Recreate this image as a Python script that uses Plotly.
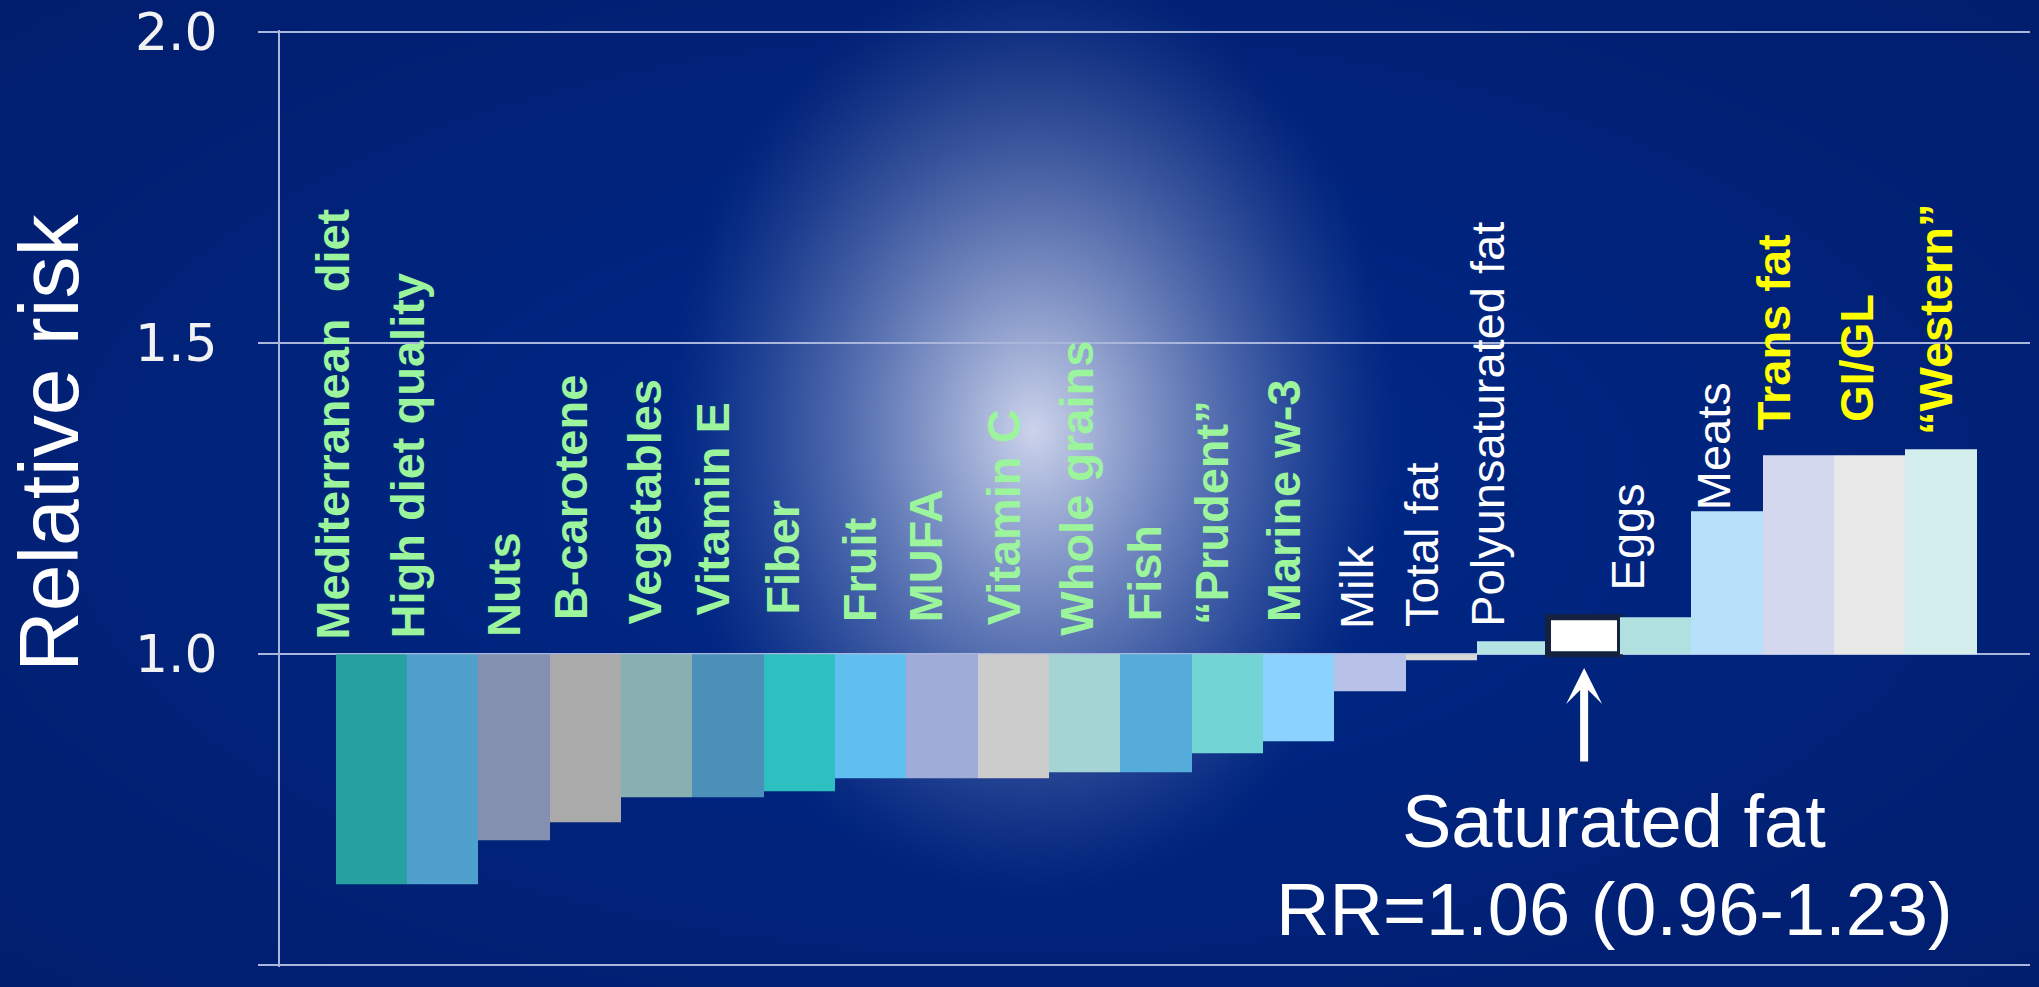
import base64, struct, zlib
import numpy as np
import plotly.graph_objects as go

# ---------------- data ----------------
categories = ["Mediterranean  diet", "High diet quality", "Nuts", "B-carotene", "Vegetables",
              "Vitamin E", "Fiber", "Fruit", "MUFA", "Vitamin C", "Whole grains", "Fish",
              "\u201cPrudent\u201d", "Marine w-3", "Milk", "Total fat", "Polyunsaturated fat",
              "Saturated fat", "Eggs", "Meats", "Trans fat", "GI/GL", "\u201cWestern\u201d"]
relative_risk = [0.63, 0.63, 0.70, 0.73, 0.77, 0.77, 0.78, 0.80, 0.80, 0.80, 0.81, 0.81,
                 0.84, 0.86, 0.94, 0.99, 1.02, 1.06, 1.06, 1.23, 1.32, 1.32, 1.33]
label_group = ["good"] * 14 + ["neutral"] * 3 + ["none", "neutral", "neutral", "bad", "bad", "bad"]
y_ticks = [0.5, 1.0, 1.5, 2.0]
reference_value = 1.0
sat_title = "Saturated fat"
sat_text = "RR=1.06 (0.96-1.23)"

# ---------------- styles ----------------
bar_colors = ["#26a0a0", "#4fa0cc", "#8490b0", "#aaaaaa", "#88b0b0", "#4a90b8", "#2ebfc0",
              "#60bff0", "#a0acd8", "#cccccc", "#a4d4d4", "#55acdb", "#72d4d4", "#8cd2ff",
              "#b8c2e8", "#d8d8d8", "#b4e4e4", "#ffffff", "#b0e0e0", "#b8e0fa", "#d4d8ee",
              "#e8e8e8", "#d4eeee"]
group_color = {"good": "#9cf59c", "neutral": "#ffffff", "bad": "#ffff00", "none": "#ffffff"}
group_weight = {"good": "bold", "neutral": "normal", "bad": "bold", "none": "normal"}
label_xshift = [-39, -36, -11, -15, -13, -15, -17, -11, -16, -10, -8.5, -12, -16, -15, -14,
                -20, -25.5, 0, -27.5, -12.5, -24, -12.5, -5.5]
label_yshift = [13, 14, 16, 33, 28, 38, 38, 31, 31, 28, 17, 31, 28, 31, 24, 26, 13.6, 0,
                25.7, 0, 24, 32, 13]
FONT = "Liberation Sans, Arial, sans-serif"
GRID = "#aab6dc"
W, H = 2039, 987
PX_PER_UNIT = 622.0
PAD = 0.003  # small range padding so edge gridlines are drawn

# ---------------- background (radial glow) ----------------
def png_uri(arr):
    h, w, _ = arr.shape
    raw = b"".join(b"\x00" + arr[i].tobytes() for i in range(h))
    def chunk(t, d):
        c = struct.pack(">I", len(d)) + t + d
        return c + struct.pack(">I", zlib.crc32(t + d) & 0xFFFFFFFF)
    png = (b"\x89PNG\r\n\x1a\n"
           + chunk(b"IHDR", struct.pack(">IIBBBBB", w, h, 8, 2, 0, 0, 0))
           + chunk(b"IDAT", zlib.compress(raw, 9)) + chunk(b"IEND", b""))
    return "data:image/png;base64," + base64.b64encode(png).decode()

s = 3
gh, gw = H // s + 1, W // s + 1
yy, xx = np.mgrid[0:gh, 0:gw].astype(float)
yy *= (H - 1) / (gh - 1)
xx *= (W - 1) / (gw - 1)
c_mid = np.array([0, 42, 140], float)
c_corner = np.array([2, 30, 110], float)
peak = np.array([205, 212, 236], float)
rv = np.clip(np.sqrt(((xx - W / 2) / (W / 2)) ** 2 + ((yy - H / 2) / (H / 2)) ** 2) / np.sqrt(2), 0, 1)
base = c_mid * (1 - rv[..., None]) + c_corner * rv[..., None]
dn = np.sqrt(((xx - 1033) / 370) ** 2 + ((yy - 430) / 470) ** 2)
t = (np.clip(1 - dn, 0, 1) ** 1.3)[..., None]
img = np.clip(base + t * (peak - base), 0, 255).astype(np.uint8)

# ---------------- figure ----------------
fig = go.Figure()
fig.add_trace(go.Bar(
    x=categories,
    y=[v - reference_value for v in relative_risk],
    base=reference_value,
    width=1.0,
    marker=dict(color=bar_colors,
                line=dict(color=["#14223f" if c == sat_title else "rgba(0,0,0,0)" for c in categories],
                          width=[6 if c == sat_title else 0 for c in categories])),
    hoverinfo="skip",
    showlegend=False,
))

annotations = []
for i, (cat, v, g) in enumerate(zip(categories, relative_risk, label_group)):
    if g == "none":
        continue
    annotations.append(dict(
        x=cat, y=max(v, reference_value), xref="x", yref="y",
        text=cat.replace("  ", " \u00a0"), showarrow=False, textangle=-90,
        xanchor="center", yanchor="bottom", borderpad=0,
        xshift=label_xshift[i], yshift=label_yshift[i],
        font=dict(family=FONT, size=47, color=group_color[g], weight=group_weight[g]),
    ))

# arrow pointing at saturated fat
annotations.append(dict(
    x=sat_title, y=reference_value, xref="x", yref="y", yshift=-14,
    text="", showarrow=True, ax=0, ay=95, axref="pixel", ayref="pixel",
    arrowhead=3, arrowsize=0.75, arrowwidth=8, arrowcolor="#ffffff",
))
annotations.append(dict(
    x=1614 / W, y=1 - 821.5 / H, xref="paper", yref="paper", showarrow=False,
    text=sat_title, xanchor="center", yanchor="middle",
    font=dict(family=FONT, size=74, color="#ffffff"),
))
annotations.append(dict(
    x=1614 / W, y=1 - 909.5 / H, xref="paper", yref="paper", showarrow=False,
    text=sat_text, xanchor="center", yanchor="middle",
    font=dict(family=FONT, size=74, color="#ffffff"),
))
# y axis title
annotations.append(dict(
    x=49 / W, y=1 - 443 / H, xref="paper", yref="paper", showarrow=False,
    text="Relative risk", textangle=-90, xanchor="center", yanchor="middle",
    font=dict(family=FONT, size=84, color="#ffffff"),
))

top_px = 32 - PAD * PX_PER_UNIT
bot_px = 965 + PAD * PX_PER_UNIT
fig.update_layout(
    width=W, height=H,
    margin=dict(l=0, r=0, t=0, b=0, autoexpand=False),
    paper_bgcolor="#00287f",
    plot_bgcolor="rgba(0,0,0,0)",
    bargap=0,
    images=[dict(source=png_uri(img), xref="paper", yref="paper", x=0, y=1,
                 sizex=1, sizey=1, xanchor="left", yanchor="top",
                 sizing="stretch", layer="below")],
    annotations=annotations,
    xaxis=dict(domain=[280 / W, 2030 / W], range=[-1.278, 23.249], automargin=False,
               showgrid=False, zeroline=False, showticklabels=False, showline=False,
               ticks="", fixedrange=True),
    yaxis=dict(domain=[1 - bot_px / H, 1 - top_px / H], range=[0.5 - PAD, 2.0 + PAD],
               automargin=False,
               tickvals=y_ticks, ticktext=[f"{v:.1f}" for v in y_ticks],
               showgrid=True, gridcolor=GRID, gridwidth=2, zeroline=False,
               showline=True, linecolor=GRID, linewidth=2,
               ticks="outside", ticklen=20, tickwidth=2, tickcolor=GRID,
               ticklabelstandoff=30,
               tickfont=dict(family="DejaVu Sans, Verdana, sans-serif", size=52, color="#f2f2f2"),
               fixedrange=True),
)

fig.write_html("out.html")
